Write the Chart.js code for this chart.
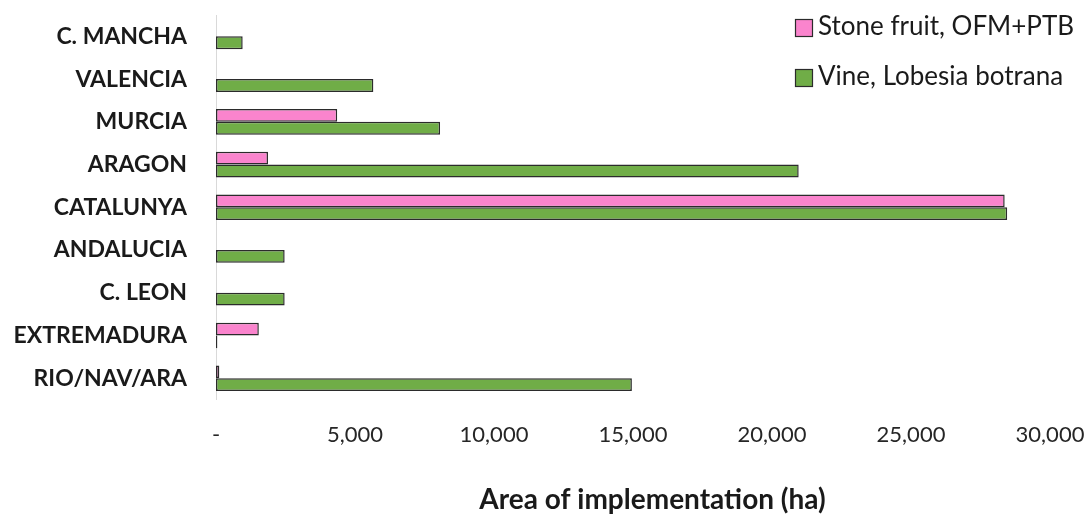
<!DOCTYPE html>
<html>
<head>
<meta charset="utf-8">
<script src="https://cdn.jsdelivr.net/npm/chart.js@4"></script>
<style>
  html, body { margin: 0; padding: 0; background: #ffffff; }
  #wrap { width: 1089px; height: 517px; }
</style>
</head>
<body>
<div id="wrap"><canvas id="chart" width="1089" height="517"></canvas></div>
<script>
// Regions (top to bottom) and mating-disruption area per crop, in hectares
const regions = ['C. MANCHA', 'VALENCIA', 'MURCIA', 'ARAGON', 'CATALUNYA', 'ANDALUCIA', 'C. LEON', 'EXTREMADURA', 'RIO/NAV/ARA'];
const stoneFruit = [null, null, 4360, 1870, 28370, null, null, 1540, 120];
const vine = [960, 5660, 8060, 20960, 28460, 2470, 2470, 50, 14960];
const seriesNames = ['Stone fruit, OFM+PTB', 'Vine, Lobesia botrana'];
const xTicks = [0, 5000, 10000, 15000, 20000, 25000, 30000];
const xTitle = 'Area of implementation (ha)';

const FONT = 'Lato, "Open Sans", sans-serif';
const EDGE = '#2b2b2b';

// Corner legend and the x-axis caption, drawn straight onto the canvas
const annotations = {
  id: 'annotations',
  afterDraw(chart) {
    const ctx = chart.ctx;
    ctx.save();
    ctx.font = '26px ' + FONT;
    ctx.textBaseline = 'middle';
    ctx.textAlign = 'left';
    chart.data.datasets.forEach((ds, i) => {
      const cy = 28 + i * 50;
      ctx.fillStyle = ds.backgroundColor;
      ctx.fillRect(795.5, cy - 8.5, 17, 17);
      ctx.strokeStyle = EDGE;
      ctx.lineWidth = 1.2;
      ctx.strokeRect(795.5, cy - 8.5, 17, 17);
      ctx.fillStyle = '#1a1a1a';
      ctx.fillText(ds.label, 818, cy - 1);
    });

    ctx.font = 'bold 28px ' + FONT;
    ctx.textAlign = 'center';
    ctx.fillStyle = '#1a1a1a';
    ctx.fillText(xTitle, (chart.chartArea.left + chart.width) / 2, 500);
    ctx.restore();
  }
};

new Chart(document.getElementById('chart'), {
  type: 'bar',
  data: {
    labels: regions,
    datasets: [
      { label: seriesNames[0], data: stoneFruit, backgroundColor: '#fa84cd', borderColor: EDGE, borderWidth: 1.5, borderSkipped: false },
      { label: seriesNames[1], data: vine, backgroundColor: '#70ad47', borderColor: EDGE, borderWidth: 1.5, borderSkipped: false }
    ]
  },
  options: {
    indexAxis: 'y',
    responsive: false,
    animation: false,
    datasets: { bar: { categoryPercentage: 0.6, barPercentage: 1.0 } },
    layout: { padding: { top: 15, left: 0, right: 39, bottom: 47 } },
    plugins: {
      legend: { display: false },
      tooltip: { enabled: false }
    },
    scales: {
      x: {
        min: 0,
        max: 30000,
        afterBuildTicks(scale) { scale.ticks = xTicks.map(v => ({ value: v })); },
        afterFit(scale) { scale.paddingLeft = 0; scale.paddingRight = 0; },
        grid: { display: false, drawTicks: false },
        border: { display: false },
        ticks: {
          padding: 22,
          color: '#262626',
          font: { family: FONT, size: 22 },
          callback: v => v === 0 ? '-' : v.toLocaleString('en-US')
        },
        title: { display: false }
      },
      y: {
        afterFit(scale) { scale.width = 216; scale.paddingTop = 0; scale.paddingBottom = 0; },
        grid: { display: false, drawTicks: false },
        border: { display: true, color: '#d9d9d9', width: 1 },
        ticks: {
          padding: 29,
          color: '#1a1a1a',
          font: { family: FONT, size: 23, weight: 'bold' }
        }
      }
    }
  },
  plugins: [annotations]
});
</script>
</body>
</html>
